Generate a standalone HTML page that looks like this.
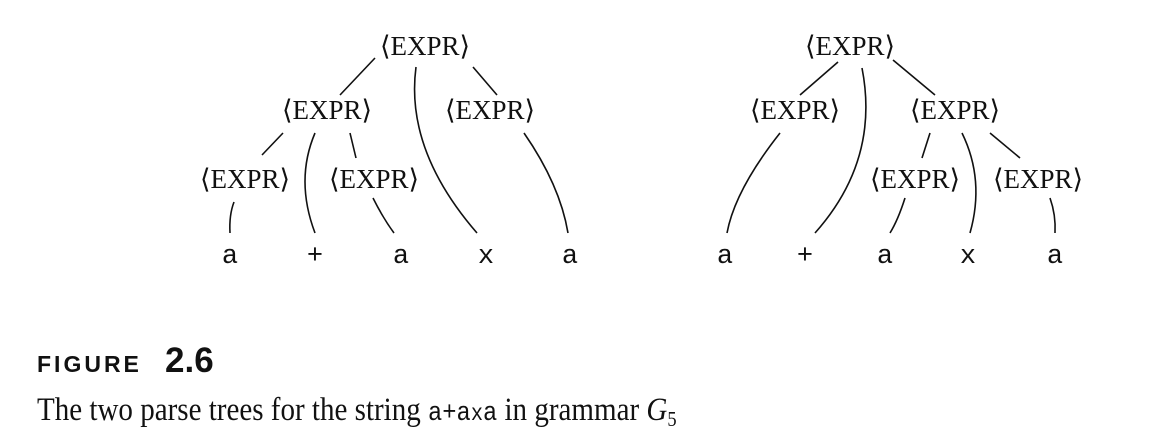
<!DOCTYPE html>
<html><head><meta charset="utf-8"><style>
body{margin:0;background:#fff;width:1158px;height:444px;overflow:hidden}
svg{display:block}
.n{font-family:"Liberation Serif",serif;font-size:27px;text-anchor:middle;fill:#111}
.l{font-family:"Liberation Mono",monospace;font-size:27px;text-anchor:middle;fill:#111}
path{fill:none;stroke:#111;stroke-width:1.6}
</style></head><body>
<svg width="1158" height="444">
<g>
<text class="n" x="425" y="55">⟨EXPR⟩</text>
<text class="n" x="327" y="119">⟨EXPR⟩</text>
<text class="n" x="490" y="119">⟨EXPR⟩</text>
<text class="n" x="245" y="188">⟨EXPR⟩</text>
<text class="n" x="374" y="188">⟨EXPR⟩</text>
<text class="l" x="230" y="263">a</text><text class="l" x="315" y="263">+</text><text class="l" x="401" y="263">a</text><text class="l" x="486" y="263">x</text><text class="l" x="570" y="263">a</text>
<path d="M375 58 L340 95"/>
<path d="M416 67 Q405 150 477 233"/>
<path d="M473 67 L497 95"/>
<path d="M283 133 L262 155"/>
<path d="M315 133 Q295 180 315 233"/>
<path d="M350 133 L356 158"/>
<path d="M234 202 Q229 215 230 233"/>
<path d="M373 198 Q383 218 394 233"/>
<path d="M524 133 Q560 185 568 233"/>
</g>
<g>
<text class="n" x="850" y="55">⟨EXPR⟩</text>
<text class="n" x="795" y="119">⟨EXPR⟩</text>
<text class="n" x="955" y="119">⟨EXPR⟩</text>
<text class="n" x="915" y="188">⟨EXPR⟩</text>
<text class="n" x="1038" y="188">⟨EXPR⟩</text>
<text class="l" x="725" y="263">a</text><text class="l" x="805" y="263">+</text><text class="l" x="885" y="263">a</text><text class="l" x="968" y="263">x</text><text class="l" x="1055" y="263">a</text>
<path d="M838 62 L800 95"/>
<path d="M862 68 Q880 160 815 233"/>
<path d="M893 60 L935 95"/>
<path d="M780 133 Q735 190 727 233"/>
<path d="M930 133 L922 158"/>
<path d="M962 133 Q985 180 970 233"/>
<path d="M990 133 L1020 158"/>
<path d="M905 198 Q898 220 890 233"/>
<path d="M1050 198 Q1056 215 1055 233"/>
</g>
<text x="37" y="372" font-family="Liberation Sans,sans-serif" font-weight="bold" font-size="23" letter-spacing="3" fill="#111">FIGURE</text>
<text x="165" y="372" font-family="Liberation Sans,sans-serif" font-weight="bold" font-size="35" fill="#111">2.6</text>
<g transform="translate(37,0) scale(0.88,1)">
<text x="0" y="420" font-family="Liberation Serif,serif" font-size="33" fill="#111">The two parse trees for the string <tspan font-family="Liberation Mono,monospace" font-size="27">a+a</tspan><tspan font-family="Liberation Mono,monospace" font-size="23">x</tspan><tspan font-family="Liberation Mono,monospace" font-size="27">a</tspan> in grammar <tspan font-style="italic">G</tspan><tspan font-size="21" dy="6">5</tspan></text>
</g>
</svg>
</body></html>
